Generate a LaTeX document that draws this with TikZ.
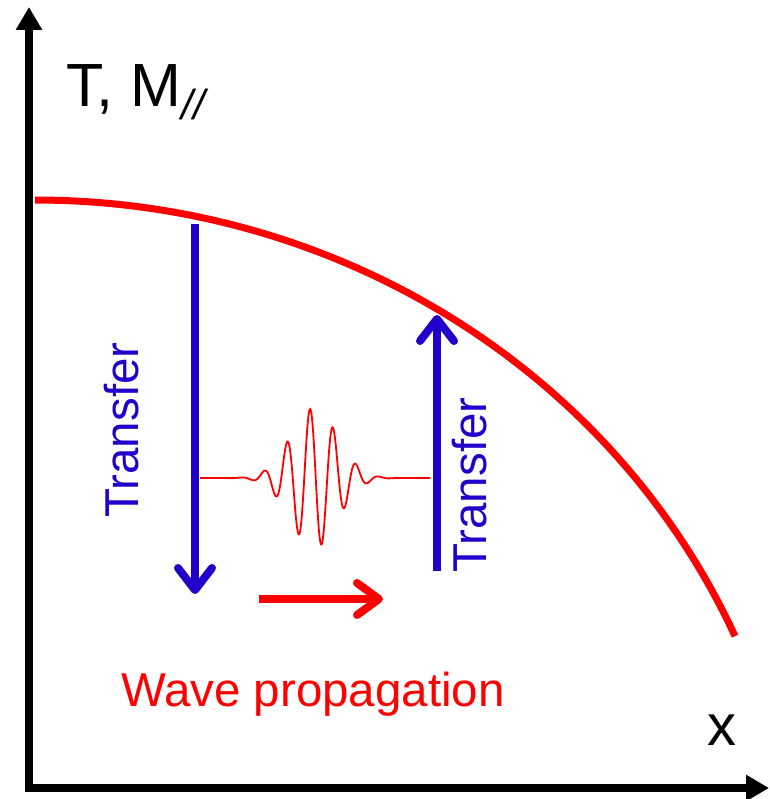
\documentclass[tikz,border=0pt]{standalone}
\usepackage{fontspec}
\setmainfont{Liberation Sans}
\usetikzlibrary{arrows.meta}
\definecolor{tblue}{RGB}{34,0,204}
\definecolor{tred}{RGB}{255,0,0}
\tikzset{
  axis/.style={line width=8pt,-{Triangle[length=23pt,width=25pt]}},
  bluearrow/.style={tblue,line width=8pt,-{Straight Barb[length=22pt,width=34pt,round]}},
  redarrow/.style={tred,line width=8pt,-{Straight Barb[length=22pt,width=32pt,round]}},
  lbl/.style={inner sep=0pt,font=\fontsize{47.5}{47.5}\selectfont},
}
\begin{document}
\begin{tikzpicture}[x=1pt,y=-1pt]
\useasboundingbox (0,0) rectangle (769,799);
% axes
\coordinate (o) at (29,792);
\coordinate (ytip) at (29,7);
\coordinate (o2) at (25,788);
\coordinate (xtip) at (769,788);
\draw[axis] (o) -- (ytip);
\draw[axis] (o2) -- (xtip);
% labels
\node[inner sep=0pt,anchor=base west,font=\fontsize{61}{61}\selectfont] (tm) at (66,107) {T, M\raisebox{-13pt}{\fontsize{42}{42}\selectfont\itshape //}};
\node[inner sep=0pt,anchor=base,font=\fontsize{58}{58}\selectfont] (xl) at (722,745) {x};
% curve
\draw[tred,line width=7pt] plot[domain=0:700,samples=120] ({35+\x},{931-731*sqrt(1-(\x/765)^2)});
% transfer arrows
\coordinate (a1s) at (195,224);
\coordinate (a1e) at (195,594);
\draw[bluearrow] (a1s) -- (a1e);
\coordinate (a2s) at (437,571);
\coordinate (a2e) at (437,315);
\draw[bluearrow] (a2s) -- (a2e);
\node[lbl,tblue,rotate=90] (t1) at (122,430) {Transfer};
\node[lbl,tblue,rotate=90] (t2) at (470,485) {Transfer};
% wave packet
\draw[tred,line width=1.8pt] plot[domain=200:430,samples=400] (\x,{478-70*exp(-((\x-314)/33)^2)*cos(15.652*(\x-310))});
% propagation arrow
\coordinate (p1) at (259,599);
\coordinate (p2) at (383,599);
\draw[redarrow] (p1) -- (p2);
\node[lbl,tred,anchor=base] (wp) at (313,706) {Wave propagation};
\end{tikzpicture}
\end{document}
